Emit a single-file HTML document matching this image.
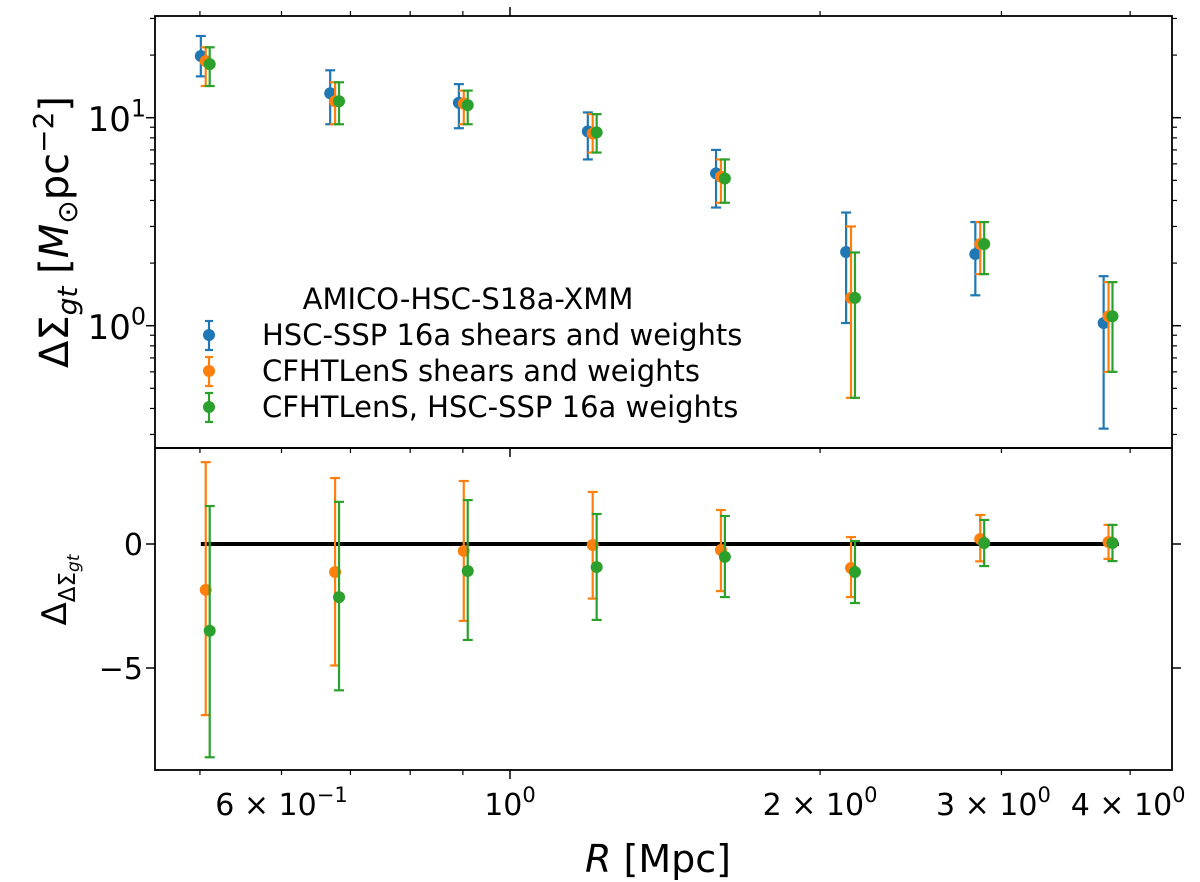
<!DOCTYPE html>
<html><head><meta charset="utf-8"><style>
body{margin:0;background:#fff}
svg{display:block;font-family:"DejaVu Sans","Liberation Sans",sans-serif}
</style></head><body>
<svg id="chart" width="1200" height="882" viewBox="0 0 1200 882" xmlns="http://www.w3.org/2000/svg"></svg>
<script>
const radii=[0.501,0.669,0.892,1.19,1.585,2.12,2.83,3.77];
const blueVal=[19.8,13.1,11.8,8.6,5.4,2.26,2.21,1.03];
const blueHi=[24.7,16.9,14.5,10.6,7.0,3.5,3.15,1.73];
const blueLo=[15.8,9.3,8.9,6.3,3.7,1.03,1.4,0.32];
const orangeVal=[18.7,12.0,11.7,8.4,5.2,1.36,2.47,1.11];
const orangeHi=[21.8,14.8,13.5,10.4,6.3,3.0,3.15,1.62];
const orangeLo=[14.2,9.3,9.3,6.8,3.9,0.45,1.77,0.6];
const greenVal=[18.1,12.0,11.5,8.5,5.1,1.36,2.47,1.11];
const greenHi=[21.8,14.8,13.5,10.4,6.3,2.25,3.15,1.62];
const greenLo=[14.2,9.3,9.3,6.8,3.9,0.45,1.77,0.6];
const dOrangeVal=[-1.85,-1.13,-0.28,-0.04,-0.24,-0.97,0.2,0.08];
const dOrangeHi=[3.3,2.66,2.54,2.1,1.37,0.28,1.17,0.77];
const dOrangeLo=[-6.9,-4.9,-3.1,-2.2,-1.9,-2.14,-0.7,-0.6];
const dGreenVal=[-3.5,-2.14,-1.09,-0.93,-0.52,-1.13,0.04,0.04];
const dGreenHi=[1.53,1.7,1.77,1.21,1.13,0.12,0.97,0.77];
const dGreenLo=[-8.6,-5.9,-3.87,-3.06,-2.14,-2.38,-0.89,-0.69];
const xMajor=[1];
const xLabeled=[0.6,2,3,4];
const xLabelText=["6 × 10","2 × 10","3 × 10","4 × 10"];
const xLabelExp=["−1","0","0","0"];

const NS="http://www.w3.org/2000/svg";
const svg=document.getElementById('chart');
const L=155,R=1172,T1=16,B1=448,T2=448,B2=770;
const x=v=>510+Math.log10(v)*1030;
const y1=v=>325.7-Math.log10(v)*208;
const y2=v=>544-v*24.8;
function el(tag,a,parent){const e=document.createElementNS(NS,tag);for(const k in a)e.setAttribute(k,a[k]);(parent||svg).appendChild(e);return e;}
function line(x1,y1_,x2,y2_,w,c,p){return el('line',{x1:x1,y1:y1_,x2:x2,y2:y2_,stroke:c||'#000','stroke-width':w||1.5},p);}

const minors=[0.5,0.6,0.7,0.8,0.9,2,3,4];
const tg=el('g',{});


[[T1,-1],[B1,1],[B2,1]].forEach(([yy,d])=>{
  xMajor.forEach(v=>line(x(v),yy,x(v),yy+d*9,1.5,'#000',tg));
  minors.forEach(v=>line(x(v),yy,x(v),yy+d*5,1.2,'#000',tg));
});
[0.3,0.4,0.5,0.6,0.7,0.8,0.9,2,3,4,5,6,7,8,9,20,30].forEach(v=>{const yy=y1(v);if(yy>T1&&yy<B1){line(L,yy,L-5,yy,1.2,'#000',tg);line(R,yy,R+5,yy,1.2,'#000',tg);}});
[1,10].forEach(v=>{line(L,y1(v),L-9,y1(v),1.5,'#000',tg);line(R,y1(v),R+9,y1(v),1.5,'#000',tg);});
[0,-5].forEach(v=>{line(L,y2(v),L-9,y2(v),1.5,'#000',tg);line(R,y2(v),R+9,y2(v),1.5,'#000',tg);});

function txt(s,xx,yy,size,anchor,name){const t=el('text',{x:xx,y:yy,'font-size':size,'text-anchor':anchor||'middle',fill:'#000'});t.textContent=s;return t;}
function expLabel(base,exp,xx,yy,name,anchor,size){size=size||30;const t=el('text',{x:xx,y:yy,'font-size':size,'text-anchor':anchor||'middle'});
  const a=el('tspan',{},t);a.textContent=base;const b=el('tspan',{dy:-size*0.43,'font-size':size*0.7},t);b.textContent=exp;}
expLabel('10','0',x(1),815,'x-tick-1');
xLabeled.forEach((v,i)=>expLabel(xLabelText[i],xLabelExp[i],x(v)+(i==2?-8:(i==3?-2:0)),815,'x-tick-'+v));
expLabel('10','1',146,131,'y-tick-10','end',34);
expLabel('10','0',146,339,'y-tick-1','end',34);
txt('0',143,555,30,'end','y-tick-0');
txt('−5',143,679,30,'end','y-tick-minus5');

el('rect',{x:L,y:T1,width:R-L,height:B1-T1,fill:'none',stroke:'#000','stroke-width':1.8,});
el('rect',{x:L,y:T2,width:R-L,height:B2-T2,fill:'none',stroke:'#000','stroke-width':1.8,});
const zl=line(x(0.501),y2(0),x(3.9),y2(0),4,'#000');



function series(vals,hi,lo,factor,yf,color,name){
  const g=el('g',{});
  
  
  vals.forEach((v,i)=>{const xx=x(radii[i]*factor);
    line(xx,yf(hi[i]),xx,yf(lo[i]),2.2,color,g);
    line(xx-5,yf(hi[i]),xx+5,yf(hi[i]),2.2,color,g);
    line(xx-5,yf(lo[i]),xx+5,yf(lo[i]),2.2,color,g);
    const c=el('circle',{cx:xx,cy:yf(v),r:6,fill:color},g);
    
    
  });
}
const BL='#1f77b4',OR='#ff7f0e',GR='#2ca02c';
series(blueVal,blueHi,blueLo,1,y1,BL,'hsc-series');
series(orangeVal,orangeHi,orangeLo,1.011,y1,OR,'cfhtlens-series');
series(greenVal,greenHi,greenLo,1.02,y1,GR,'cfhtlens-hsc-weights-series');
series(dOrangeVal,dOrangeHi,dOrangeLo,1.011,y2,OR,'residual-cfhtlens-series');
series(dGreenVal,dGreenHi,dGreenLo,1.02,y2,GR,'residual-cfhtlens-hsc-weights-series');

const lg=el('g',{});


txt('AMICO-HSC-S18a-XMM',468,309,29,'middle','legend-title');
[['HSC-SSP 16a shears and weights',BL,335],['CFHTLenS shears and weights',OR,371],['CFHTLenS, HSC-SSP 16a weights',GR,407]].forEach(([s,c,yy],i)=>{
  line(209,yy-14,209,yy+15,2.2,c,lg);line(205,yy-14,213,yy-14,2.2,c,lg);line(205,yy+15,213,yy+15,2.2,c,lg);
  el('circle',{cx:209,cy:yy,r:6,fill:c},lg);
  txt(s,262,yy+10,29,'start','legend-entry-'+(i+1));
});

const xt=el('text',{x:658,y:872,'font-size':38,'text-anchor':'middle'});

xt.innerHTML='<tspan font-style="italic">R</tspan> [Mpc]';
const yt=el('text',{transform:'translate(68,232) rotate(-90)','font-size':40,'text-anchor':'middle'});

yt.innerHTML='ΔΣ<tspan font-style="italic" font-size="28" dy="9">gt</tspan><tspan dy="-9"> [</tspan><tspan font-style="italic">M</tspan><tspan font-size="28" dy="9">⊙</tspan><tspan dy="-9">pc</tspan><tspan font-size="28" dy="-15">−2</tspan><tspan dy="15">]</tspan>';
const yb=el('text',{transform:'translate(66,590) rotate(-90)','font-size':34,'text-anchor':'middle'});

yb.innerHTML='Δ<tspan font-size="23" dy="9">ΔΣ</tspan><tspan font-size="17" dy="4" font-style="italic">gt</tspan>';
</script>
</body></html>
